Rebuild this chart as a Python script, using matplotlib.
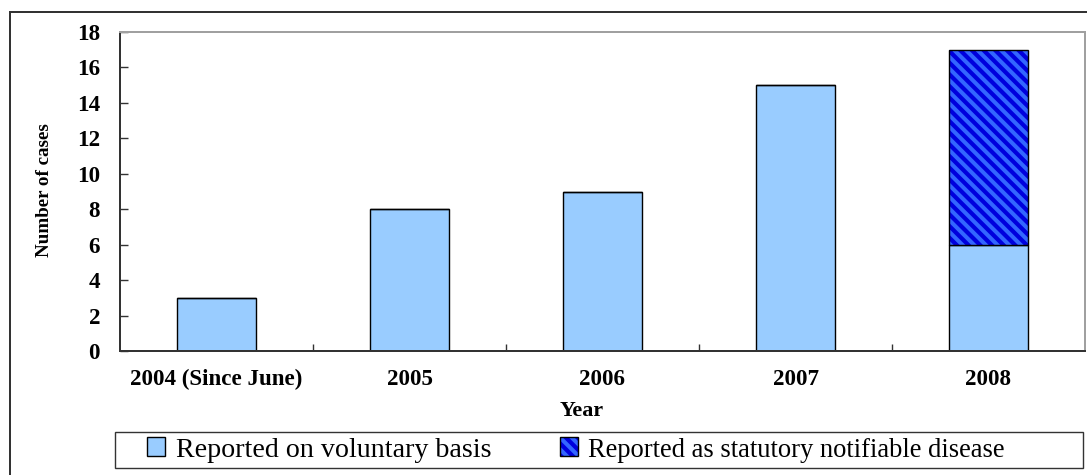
import matplotlib
matplotlib.use("Agg")
import matplotlib.pyplot as plt
from matplotlib.patches import Rectangle
from matplotlib.legend_handler import HandlerTuple
import numpy as np

categories = ["2004 (Since June)", "2005", "2006", "2007", "2008"]
voluntary = [3, 8, 9, 15, 6]
statutory = [0, 0, 0, 0, 11]
yticks = [0, 2, 4, 6, 8, 10, 12, 14, 16, 18]
label_vol = "Reported on voluntary basis"
label_stat = "Reported as statutory notifiable disease"

DPI = 140
W, H = 1087, 475
PX = 72.0 / DPI  # pixel -> point

plt.rcParams["font.family"] = ["Liberation Serif", "DejaVu Serif"]
plt.rcParams["hatch.linewidth"] = 4.2 * PX

fig = plt.figure(figsize=(W / DPI, H / DPI), dpi=DPI)
ax = fig.add_axes([120 / W, 1 - 351 / H, (1085 - 120) / W, (351 - 32) / H])

x = np.arange(len(categories))
bw = 0.41
ax.bar(x, voluntary, width=bw, color="#99CCFF", edgecolor="black", linewidth=1.4 * PX, zorder=2)
hb = ax.bar(x, statutory, width=bw, bottom=voluntary, color="#3366FF", edgecolor="#0000DD",
            hatch="\\\\\\\\", linewidth=0, zorder=2)
ob = ax.bar(x, statutory, width=bw, bottom=voluntary, fill=False, edgecolor="black",
            linewidth=1.4 * PX, zorder=3)

ax.set_xlim(-0.5, len(categories) - 0.5)
ax.set_ylim(0, 18)
ax.set_yticks(yticks)
ax.set_xticks(x)
ax.set_xticklabels(categories)
ax.set_xticks(np.arange(len(categories) - 1) + 0.5, minor=True)

ax.tick_params(axis="x", which="major", length=0, pad=18 * PX, labelsize=23 * PX)
ax.tick_params(axis="x", which="minor", direction="in", length=7 * PX, width=1.4 * PX, color="#333333")
ax.tick_params(axis="y", direction="in", length=8 * PX, width=1.4 * PX, color="#333333",
               pad=20 * PX, labelsize=23 * PX)
for lab in ax.get_xticklabels() + ax.get_yticklabels():
    lab.set_fontweight("bold")

for s in ("left", "bottom"):
    ax.spines[s].set_color("#333333")
    ax.spines[s].set_linewidth(2 * PX)
for s in ("top", "right"):
    ax.spines[s].set_color("#A0A0A0")
    ax.spines[s].set_linewidth(2 * PX)

ax.set_ylabel("Number of cases", fontsize=19 * PX, fontweight="bold")
ax.yaxis.set_label_coords((53 - 120) / 965, (351 - 190) / 319)
ax.set_xlabel("Year", fontsize=22 * PX, fontweight="bold")
ax.xaxis.set_label_coords((582 - 120) / 965, (351 - 401) / 319)

# legend
fs = 28
leg = fig.legend([ax.patches[0], (hb[-1], ob[-1])], [label_vol, label_stat],
                 loc="center left", bbox_to_anchor=(147 / W, 1 - 450 / H),
                 ncol=2, frameon=False, fontsize=fs * PX, borderpad=0, borderaxespad=0,
                 handlelength=18 / fs, handleheight=18 / fs, handletextpad=11 / fs,
                 columnspacing=68 / fs,
                 handler_map={tuple: HandlerTuple(ndivide=1, pad=0)})
leg.get_texts()[1].set_fontsize(26.5 * PX)

fig.patches.append(Rectangle((115 / W, 1 - 468 / H), (1083 - 115) / W, 36 / H,
                             transform=fig.transFigure, fill=False,
                             edgecolor="#333333", linewidth=1.4 * PX))
# outer frame
fig.patches.append(Rectangle((10 / W, -0.2), 1.5, 1.2 - 12 / H,
                             transform=fig.transFigure, fill=False,
                             edgecolor="#333333", linewidth=2 * PX))

fig.savefig("out.png", dpi=DPI)
